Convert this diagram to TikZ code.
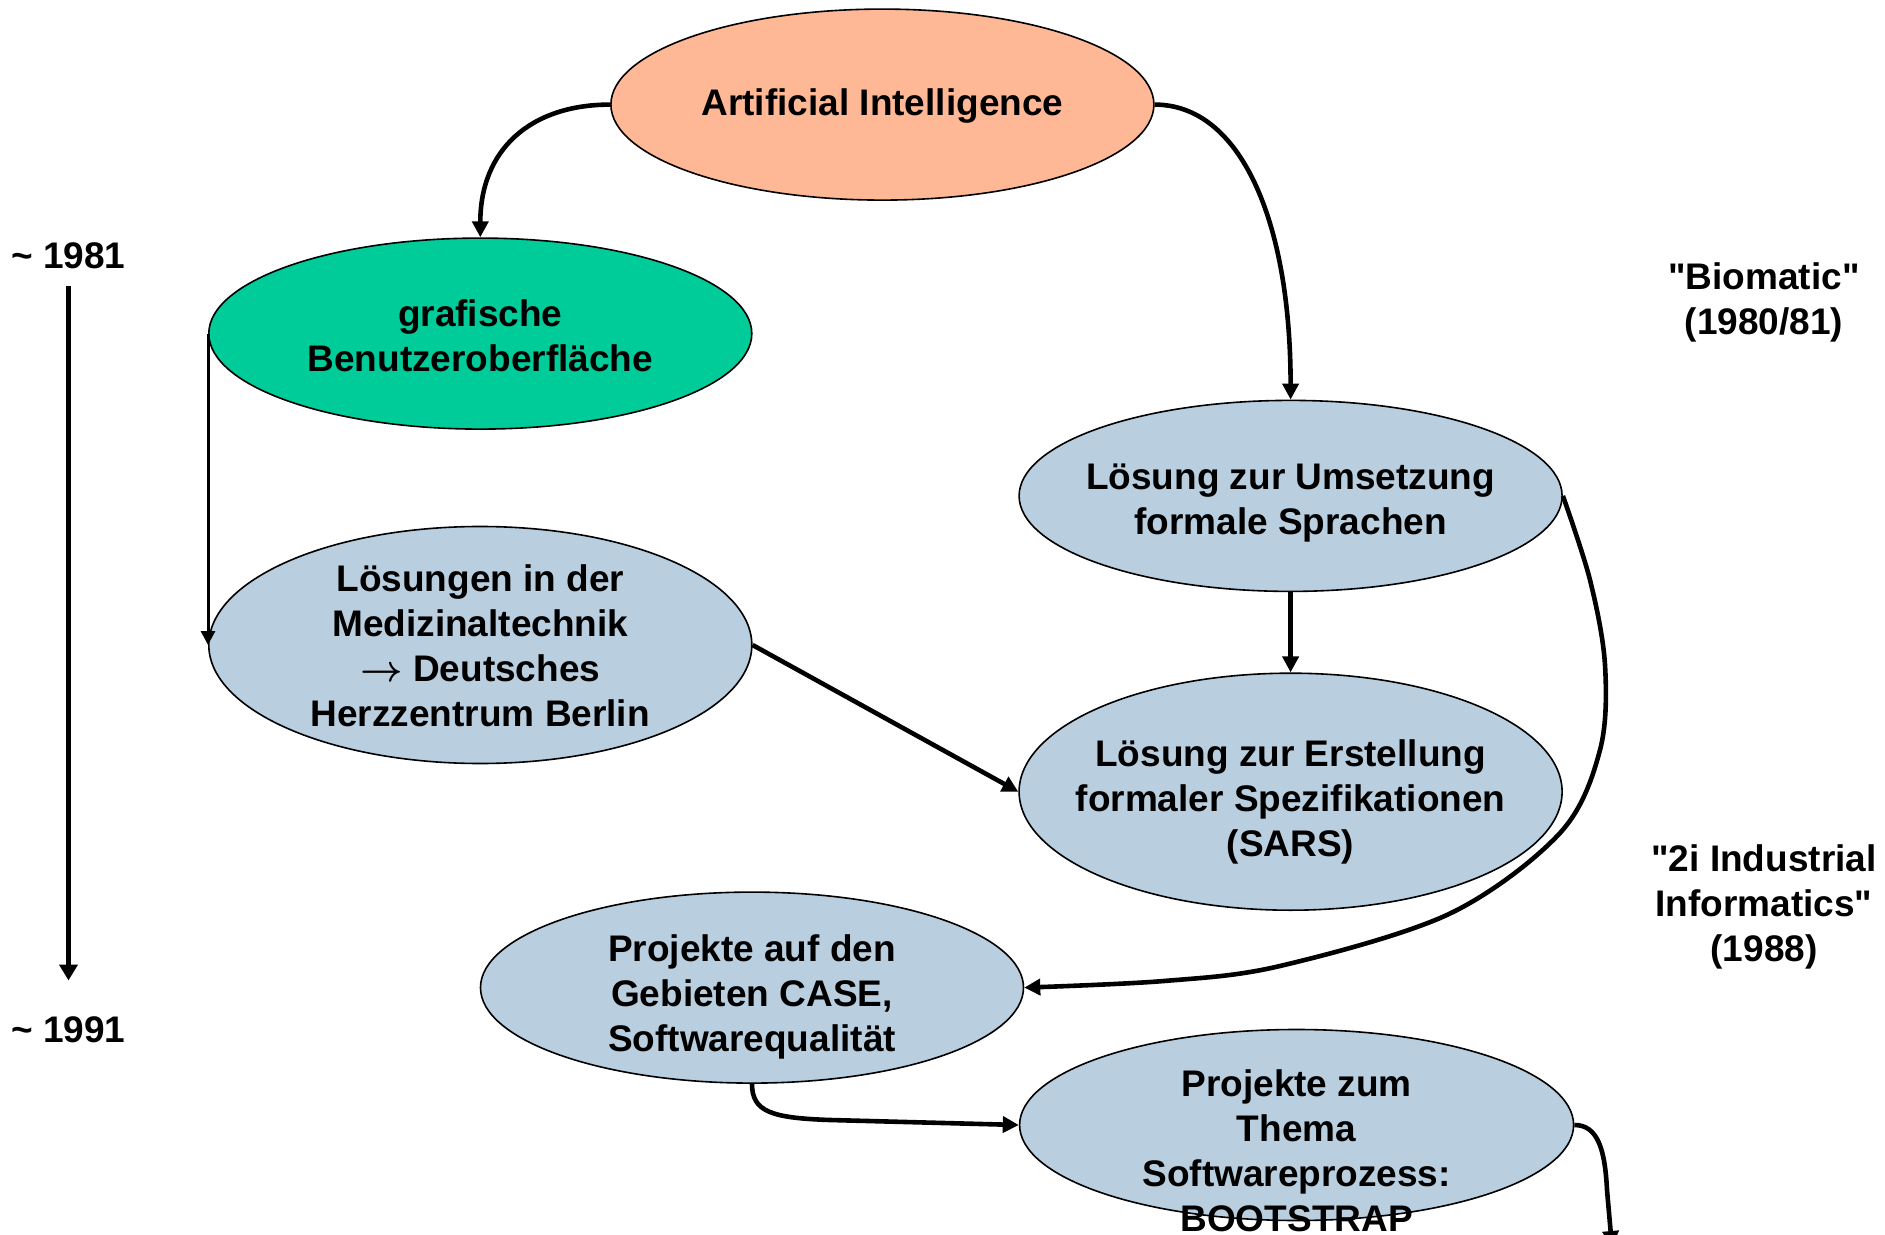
\documentclass[tikz,border=0pt]{standalone}
\usepackage{fontspec}
\usepackage{fix-cm}
\usepackage{bm}
\newfontfamily\af{Liberation Sans}
\usetikzlibrary{shapes.geometric,arrows.meta}
\definecolor{aicol}{HTML}{FFB895}
\definecolor{grcol}{HTML}{00CC99}
\definecolor{blcol}{HTML}{B9CEDE}
\tikzset{
  ell/.style={ellipse, draw=black, line width=0.8pt, inner sep=0pt},
  small/.style={minimum width=271.5pt, minimum height=95.5pt},
  big/.style={minimum width=271.5pt, minimum height=118.5pt},
  txt/.style={inner sep=0pt, align=center, font=\af\fontsize{18.5}{22.5}\selectfont\bfseries},
  arr/.style={line width=2.3pt, -{Triangle[length=8pt,width=8pt]}},
  thin/.style={line width=1.5pt, -{Triangle[length=7pt,width=7pt]}},
  tl/.style={line width=2.6pt, -{Triangle[length=8pt,width=9pt]}}
}
\begin{document}
\begin{tikzpicture}[x=0.5pt,y=-0.5pt]
\useasboundingbox (0,0) rectangle (1885,1235);
% ellipses
\node[ell, small, fill=aicol] (ai) at (882.4,104.6) {};
\node[ell, small, fill=grcol] (gr) at (480.3,333.6) {};
\node[ell, small, fill=blcol] (um) at (1290.6,495.9) {};
\node[ell, big, fill=blcol] (me) at (480.3,645) {};
\node[ell, big, fill=blcol] (sa) at (1290.6,791.7) {};
\node[ell, small, fill=blcol] (ca) at (752,987.6) {};
\node[ell, small, fill=blcol, minimum width=277pt] (th) at (1296.6,1125) {};
% texts
\node[txt] (ait) at (882.4,106) {Artificial Intelligence};
\node[txt] (grt) at (480.3,335.5) {grafische\\Benutzeroberfläche};
\node[txt] (umt) at (1290.6,503) {Lösung zur Umsetzung\\formale Sprachen};
\node[txt] (met) at (480.3,645.5) {Lösungen in der\\Medizinaltechnik\\$\bm{\rightarrow}$ Deutsches\\Herzzentrum Berlin};
\node[txt] (sat) at (1290.6,802) {Lösung zur Erstellung\\formaler Spezifikationen\\(SARS)};
\node[txt] (cat) at (752,996.5) {Projekte auf den\\Gebieten CASE,\\Softwarequalität};
\node[txt] (tht) at (1296.6,1151) {Projekte zum\\Thema\\Softwareprozess:\\BOOTSTRAP};
% side texts
\node[txt] (y81) at (68.5,256) {\textasciitilde{} 1981};
\node[txt] (y91) at (68.5,1030) {\textasciitilde{} 1991};
\node[txt] (bio) at (1764,302.5) {"Biomatic"\\(1980/81)};
\node[txt] (ind) at (1764,906.5) {"2i Industrial\\Informatics"\\(1988)};
% connectors
\draw[tl] ([yshift=-8.5pt]y81.south) -- ([yshift=18pt]y91.north);
\draw[arr] (ai.west) .. controls (530,104.6) and (480.3,150) .. (gr.north);
\draw[arr] (ai.east) .. controls (1240,104.6) and (1290.6,220) .. (um.north);
\draw[thin] (gr.west) -- (me.west);
\draw[arr] (me.east) -- (sa.west);
\draw[arr] (um.south) -- (sa.north);
\draw[arr] plot[smooth, tension=0.55] coordinates {(um.east) (1590,580) (1605,665) (1600,750) (1560,833) (1449,914) (1280,966) (1164,981) (ca.east)};
\draw[arr] (ca.south) .. controls (752,1112) and (772,1118) .. (830,1120) -- (th.west);
\coordinate (bend) at (1612,1247);
\draw[arr] (th.east) .. controls (1598,1125) and (1605,1150) .. (1607,1190) -- (bend);
\end{tikzpicture}
\end{document}
